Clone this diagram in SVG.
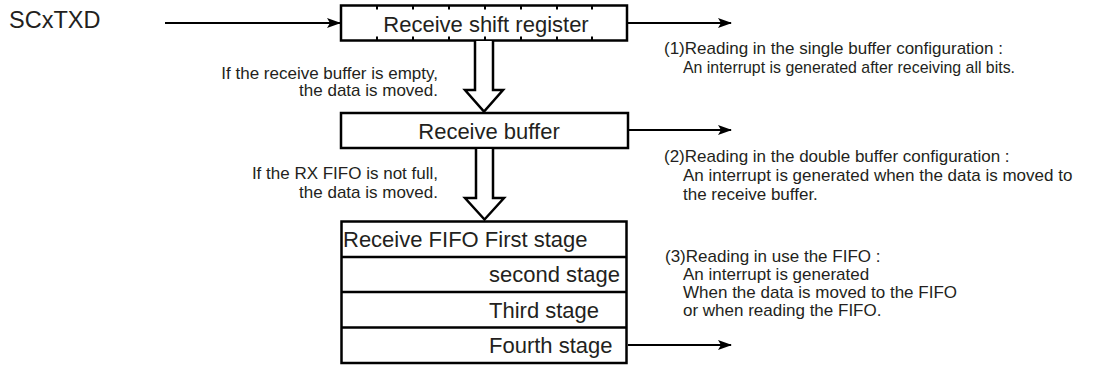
<svg xmlns="http://www.w3.org/2000/svg" width="1094" height="365" viewBox="0 0 1094 365">
<defs>
<marker id="ah" markerWidth="14" markerHeight="10" refX="13" refY="5" orient="auto" markerUnits="userSpaceOnUse">
<path d="M0,0 L14,5 L0,10 L3,5 z" fill="#000"/>
</marker>
<style>
text{font-family:"Liberation Sans",Arial,sans-serif;fill:#231f20}
.big{font-size:22px}
.sm{font-size:17px}
.box{fill:#fff;stroke:#000;stroke-width:2.5}
.tick{stroke:#000;stroke-width:2}
.conn{stroke:#000;stroke-width:2;fill:none}
.hollow{fill:#fff;stroke:#000;stroke-width:2.5;stroke-linejoin:miter}
</style>
</defs>
<rect width="1094" height="365" fill="#fff"/>
<g id="scxtxd"><text x="9" y="27.5" style="font-size:23.5px">SCxTXD</text></g>
<g id="shift-register">
<rect class="box" x="341" y="5.5" width="286" height="35"/>
<path class="tick" d="M377,5.5v4 M413,5.5v4 M449,5.5v4 M485,5.5v4 M521,5.5v4 M557,5.5v4 M592,5.5v4 M377,40.5v-4 M413,40.5v-4 M449,40.5v-4 M485,40.5v-4 M521,40.5v-4 M557,40.5v-4 M592,40.5v-4"/>
<text class="big" x="486" y="31.5" text-anchor="middle">Receive shift register</text>
</g>
<g id="receive-buffer">
<rect class="box" x="341" y="113" width="287" height="35"/>
<text class="big" x="489" y="139" text-anchor="middle">Receive buffer</text>
</g>
<g id="receive-fifo">
<rect class="box" x="341.5" y="221.5" width="285" height="141.5"/>
<path class="box" d="M341.5,257H626.5 M341.5,292H626.5 M341.5,327.5H626.5"/>
<text class="big" x="343" y="246.5">Receive FIFO First stage</text>
<text class="big" x="489" y="282">second stage</text>
<text class="big" x="489" y="317.5">Third stage</text>
<text class="big" x="489" y="352.5">Fourth stage</text>
</g>
<g id="connectors">
<line class="conn" x1="165" y1="23" x2="340" y2="23" marker-end="url(#ah)"/>
<line class="conn" x1="628" y1="23" x2="731" y2="23" marker-end="url(#ah)"/>
<line class="conn" x1="629" y1="130" x2="731" y2="130" marker-end="url(#ah)"/>
<line class="conn" x1="628" y1="345" x2="731" y2="345" marker-end="url(#ah)"/>
<polyline class="hollow" points="475,41 475,90 465,90 484,111.5 503,90 493,90 493,41"/>
<polyline class="hollow" points="476,149 476,198 465,198 484.5,219.5 504,198 493,198 493,149"/>
</g>
<g id="note-move1">
<text class="sm" x="438" y="79" text-anchor="end">If the receive buffer is empty,</text>
<text class="sm" x="438" y="96" text-anchor="end">the data is moved.</text>
</g>
<g id="note-move2">
<text class="sm" x="438" y="179" text-anchor="end">If the RX FIFO is not full,</text>
<text class="sm" x="438" y="198" text-anchor="end">the data is moved.</text>
</g>
<g id="note-1">
<text class="sm" x="664" y="54">(1)Reading in the single buffer configuration :</text>
<text class="sm" x="683" y="73" textLength="332" lengthAdjust="spacingAndGlyphs">An interrupt is generated after receiving all bits.</text>
</g>
<g id="note-2">
<text class="sm" x="664" y="162">(2)Reading in the double buffer configuration :</text>
<text class="sm" x="683" y="181">An interrupt is generated when the data is moved to</text>
<text class="sm" x="683" y="200">the receive buffer.</text>
</g>
<g id="note-3">
<text class="sm" x="665" y="262">(3)Reading in use the FIFO :</text>
<text class="sm" x="683" y="280">An interrupt is generated</text>
<text class="sm" x="683" y="298">When the data is moved to the FIFO</text>
<text class="sm" x="683" y="316">or when reading the FIFO.</text>
</g>
</svg>
